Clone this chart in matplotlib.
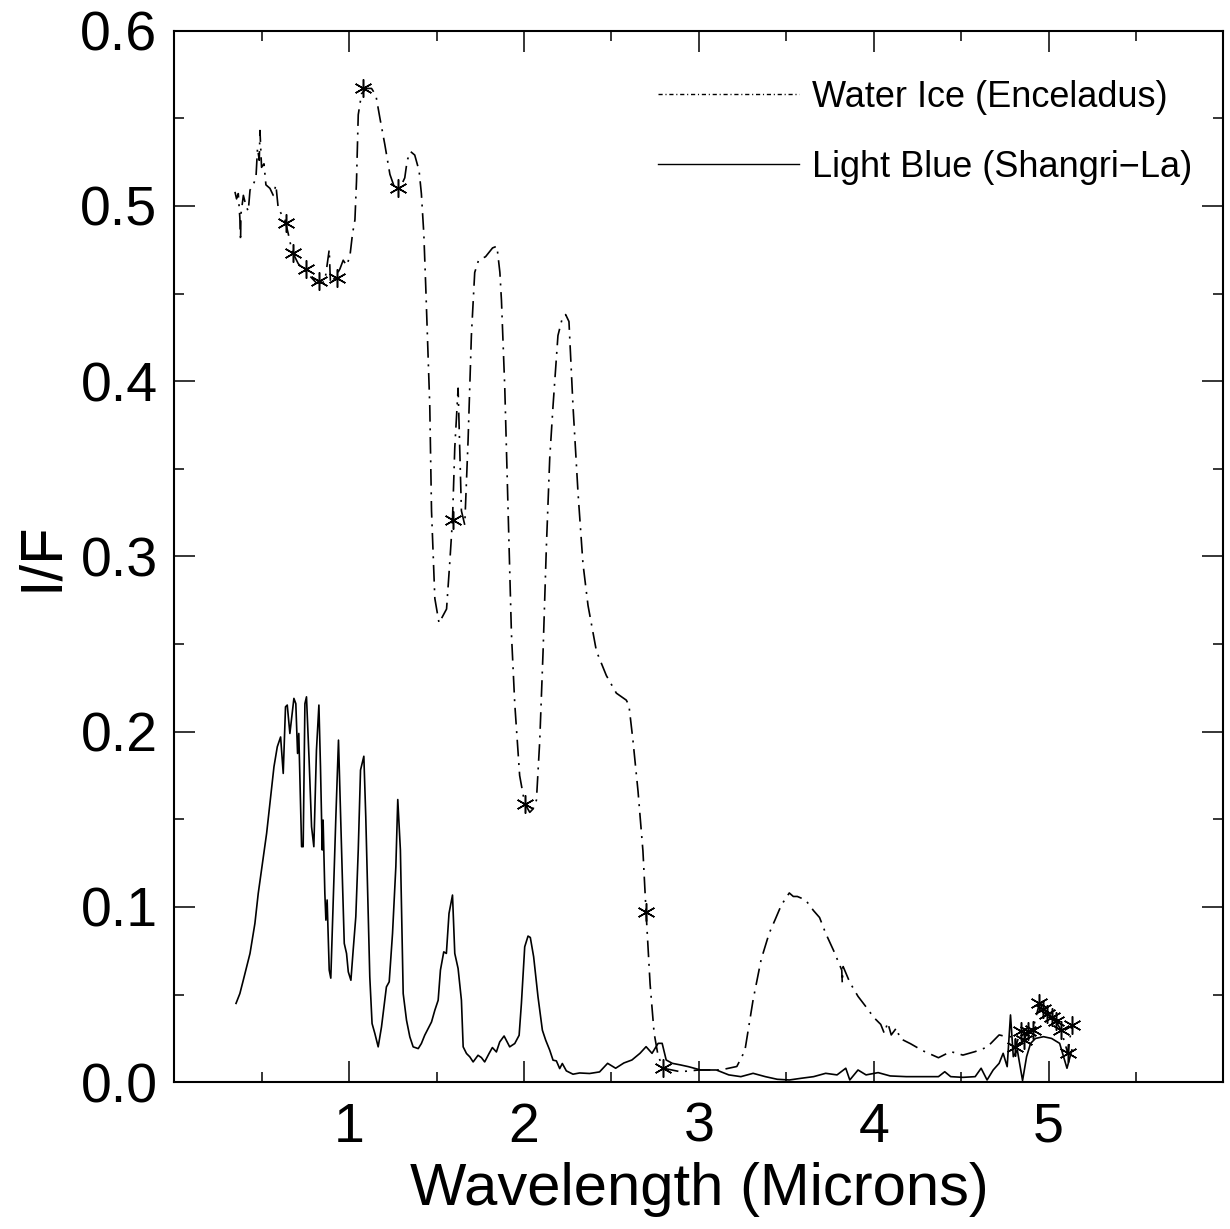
import numpy as np
import matplotlib
matplotlib.use("Agg")
import matplotlib.pyplot as plt
from matplotlib.lines import Line2D

# Water ice (Enceladus) spectrum, dash-dot curve
ice_x = [0.347, 0.356, 0.366, 0.375, 0.379, 0.381, 0.395, 0.410, 0.423, 0.433,
         0.451, 0.467, 0.476, 0.486, 0.490, 0.499, 0.513, 0.524, 0.547, 0.566,
         0.581, 0.594, 0.614, 0.633, 0.652, 0.665, 0.684, 0.709, 0.737, 0.775,
         0.813, 0.842, 0.861, 0.886, 0.893, 0.918, 0.947, 0.966, 0.985, 1.004,
         1.019, 1.033, 1.042, 1.052, 1.071, 1.099, 1.128, 1.153, 1.176, 1.204,
         1.233, 1.261, 1.290, 1.318, 1.332, 1.351, 1.375, 1.400, 1.413, 1.427,
         1.438, 1.461, 1.471, 1.490, 1.514, 1.557, 1.575, 1.591, 1.604, 1.623,
         1.642, 1.661, 1.680, 1.699, 1.718, 1.740, 1.780, 1.820, 1.845, 1.862,
         1.871, 1.890, 1.909, 1.928, 1.947, 1.975, 2.004, 2.033, 2.052, 2.071,
         2.090, 2.109, 2.128, 2.147, 2.166, 2.194, 2.219, 2.238, 2.257, 2.280,
         2.309, 2.337, 2.366, 2.414, 2.471, 2.528, 2.585, 2.600, 2.623, 2.652,
         2.680, 2.698, 2.721, 2.744, 2.767, 2.797, 2.894, 3.000, 3.124, 3.217,
         3.263, 3.310, 3.356, 3.402, 3.437, 3.471, 3.517, 3.540, 3.563, 3.610,
         3.655, 3.690, 3.725, 3.771, 3.800, 3.817, 3.820, 3.825, 3.863, 3.910,
         3.956, 4.000, 4.040, 4.060, 4.080, 4.100, 4.130, 4.150, 4.210, 4.280,
         4.370, 4.440, 4.510, 4.580, 4.648, 4.717, 4.760, 4.810, 4.810, 4.840,
         4.860, 4.880, 4.910, 4.947, 4.970, 4.990, 5.020, 5.040, 5.070, 5.110,
         5.133]
ice_y = [0.508, 0.504, 0.507, 0.493, 0.480, 0.495, 0.506, 0.500, 0.497, 0.509,
         0.512, 0.516, 0.533, 0.526, 0.543, 0.522, 0.524, 0.512, 0.510, 0.506,
         0.512, 0.499, 0.495, 0.492, 0.484, 0.478, 0.472, 0.467, 0.464, 0.460,
         0.456, 0.456, 0.457, 0.475, 0.456, 0.459, 0.464, 0.469, 0.466, 0.471,
         0.484, 0.492, 0.514, 0.552, 0.564, 0.567, 0.567, 0.563, 0.550, 0.535,
         0.518, 0.510, 0.510, 0.516, 0.526, 0.531, 0.529, 0.520, 0.507, 0.484,
         0.454, 0.386, 0.326, 0.276, 0.262, 0.270, 0.296, 0.321, 0.362, 0.396,
         0.326, 0.318, 0.366, 0.426, 0.462, 0.469, 0.471, 0.476, 0.477, 0.462,
         0.446, 0.396, 0.326, 0.256, 0.216, 0.175, 0.159, 0.154, 0.156, 0.161,
         0.195, 0.246, 0.306, 0.356, 0.386, 0.426, 0.436, 0.438, 0.434, 0.386,
         0.336, 0.296, 0.272, 0.246, 0.232, 0.222, 0.218, 0.215, 0.195, 0.166,
         0.132, 0.097, 0.056, 0.028, 0.015, 0.008, 0.006, 0.007, 0.007, 0.009,
         0.018, 0.047, 0.070, 0.085, 0.093, 0.101, 0.108, 0.106, 0.106, 0.104,
         0.098, 0.094, 0.085, 0.075, 0.068, 0.064, 0.0565, 0.066, 0.057, 0.049,
         0.043, 0.037, 0.033, 0.028, 0.034, 0.027, 0.031, 0.025, 0.022, 0.018,
         0.014, 0.0175, 0.0155, 0.0175, 0.020, 0.027, 0.026, 0.026, 0.020, 0.029,
         0.024, 0.029, 0.030, 0.045, 0.042, 0.039, 0.037, 0.035, 0.030, 0.0165,
         0.0327]

# asterisk symbols on the water ice curve
mark_x = [0.638, 0.680, 0.753, 0.829, 0.928, 1.080, 1.280, 1.591, 2.004, 2.698,
          2.797, 4.810, 4.840, 4.860, 4.880, 4.910, 4.947, 4.970, 4.990, 5.020,
          5.040, 5.070, 5.110, 5.133]
mark_y = [0.490, 0.473, 0.464, 0.457, 0.459, 0.567, 0.510, 0.321, 0.159, 0.097,
          0.008, 0.020, 0.029, 0.024, 0.029, 0.030, 0.045, 0.042, 0.039, 0.037,
          0.035, 0.030, 0.0165, 0.0327]

# Light Blue (Shangri-La) spectrum, solid curve
blue_x = [0.353, 0.375, 0.394, 0.433, 0.461, 0.480, 0.499, 0.528, 0.547, 0.570,
          0.589, 0.608, 0.623, 0.636, 0.646, 0.661, 0.684, 0.695, 0.705, 0.712,
          0.728, 0.737, 0.747, 0.756, 0.771, 0.785, 0.798, 0.813, 0.827, 0.836,
          0.846, 0.851, 0.861, 0.867, 0.874, 0.886, 0.895, 0.909, 0.924, 0.939,
          0.951, 0.962, 0.972, 0.985, 0.995, 1.010, 1.023, 1.038, 1.052, 1.065,
          1.084, 1.095, 1.109, 1.118, 1.131, 1.147, 1.166, 1.185, 1.213, 1.229,
          1.248, 1.267, 1.278, 1.293, 1.309, 1.328, 1.347, 1.366, 1.395, 1.413,
          1.432, 1.471, 1.490, 1.509, 1.522, 1.541, 1.556, 1.571, 1.591, 1.604,
          1.623, 1.642, 1.652, 1.671, 1.690, 1.709, 1.737, 1.756, 1.775, 1.800,
          1.819, 1.842, 1.861, 1.886, 1.918, 1.947, 1.972, 1.985, 2.004, 2.023,
          2.036, 2.055, 2.080, 2.105, 2.124, 2.147, 2.166, 2.185, 2.204, 2.219,
          2.242, 2.280, 2.318, 2.375, 2.432, 2.478, 2.524, 2.571, 2.617, 2.663,
          2.698, 2.732, 2.767, 2.790, 2.813, 2.848, 2.894, 2.940, 3.010, 3.100,
          3.171, 3.240, 3.310, 3.380, 3.448, 3.517, 3.587, 3.656, 3.725, 3.790,
          3.840, 3.863, 3.910, 3.956, 4.025, 4.094, 4.186, 4.278, 4.370, 4.406,
          4.440, 4.510, 4.580, 4.614, 4.648, 4.683, 4.717, 4.740, 4.763, 4.782,
          4.798, 4.821, 4.851, 4.874, 4.897, 4.925, 4.971, 5.017, 5.063, 5.105,
          5.133]
blue_y = [0.045, 0.0506, 0.058, 0.0735, 0.0906, 0.1077, 0.1211, 0.142, 0.1591, 0.180,
          0.1914, 0.197, 0.1762, 0.2142, 0.2152, 0.199, 0.219, 0.216, 0.1876, 0.199,
          0.1344, 0.1344, 0.216, 0.2199, 0.1838, 0.1458, 0.1344, 0.1895, 0.2152, 0.180,
          0.1325, 0.1496, 0.1077, 0.0925, 0.104, 0.064, 0.0594, 0.104, 0.1515, 0.1952,
          0.1515, 0.1135, 0.0792, 0.0735, 0.063, 0.0582, 0.0754, 0.0944, 0.1325, 0.1781,
          0.186, 0.1515, 0.0944, 0.0601, 0.0335, 0.0278, 0.0202, 0.0316, 0.0544, 0.0573,
          0.0849, 0.123, 0.1613, 0.1325, 0.0506, 0.0354, 0.0259, 0.0202, 0.0192, 0.0221,
          0.0268, 0.0344, 0.0411, 0.0468, 0.064, 0.0744, 0.0735, 0.0963, 0.1068, 0.0735,
          0.0649, 0.0468, 0.0202, 0.0164, 0.0145, 0.0116, 0.0154, 0.0141, 0.0116, 0.0164,
          0.0198, 0.0173, 0.023, 0.0264, 0.0202, 0.0221, 0.0268, 0.0449, 0.0773, 0.0834,
          0.0826, 0.0716, 0.0487, 0.0297, 0.024, 0.0183, 0.0126, 0.0122, 0.0078, 0.0107,
          0.0065, 0.0046, 0.0053, 0.005, 0.0059, 0.0108, 0.008, 0.011, 0.0127, 0.0165,
          0.0203, 0.0165, 0.0222, 0.0222, 0.0127, 0.0108, 0.0099, 0.0089, 0.007, 0.007,
          0.0042, 0.0032, 0.0051, 0.0032, 0.0017, 0.0013, 0.0023, 0.0032, 0.0051, 0.0042,
          0.008, 0.0013, 0.007, 0.0042, 0.0055, 0.0036, 0.0032, 0.0032, 0.0032, 0.006,
          0.0032, 0.0028, 0.0032, 0.008, 0.0013, 0.007, 0.0108, 0.0165, 0.0089, 0.0384,
          0.0146, 0.0184, 0.001, 0.0146, 0.0222, 0.025, 0.026, 0.025, 0.0222, 0.008,
          0.0184]

x_major = [1, 2, 3, 4, 5]
y_major = [0.0, 0.1, 0.2, 0.3, 0.4, 0.5, 0.6]

plt.rcParams['font.family'] = ['Liberation Sans', 'DejaVu Sans']
dashdot = (10, 4, 1.2, 4)

fig = plt.figure(figsize=(12.3, 12.29), dpi=100)
ax = fig.add_axes([0.1417, 0.1194, 0.853, 0.8557])

ax.plot(ice_x, ice_y, color='black', lw=1.2, dashes=dashdot)
ax.plot(mark_x, mark_y, linestyle='none', marker=(6, 2, 0), ms=13, mew=1.1, color='black')
ax.plot(blue_x, blue_y, color='black', lw=1.2, linestyle='-')

ax.set_xlim(0, 6)
ax.set_ylim(0, 0.6)
ax.set_xticks(x_major)
ax.set_xticks(np.arange(0.5, 6.0, 0.5), minor=True)
ax.set_yticks(y_major)
ax.set_yticks(np.arange(0.05, 0.6, 0.05), minor=True)
ax.set_yticklabels(['%.1f' % v for v in y_major])
ax.tick_params(which='both', direction='in', top=True, right=True, width=1.1, colors='black')
ax.tick_params(which='major', length=15, labelsize=40)
ax.tick_params(which='minor', length=7.5)
ax.tick_params(axis='x', which='major', pad=14)
ax.tick_params(axis='y', which='major', pad=12)
for s in ax.spines.values():
    s.set_linewidth(1.5)

ax.set_xlabel('Wavelength (Microns)', fontsize=43, labelpad=6)
ax.set_ylabel('I/F', fontsize=43, labelpad=8)

handles = [Line2D([], [], color='black', lw=1.0, dashes=(3, 2, 0.8, 2)),
           Line2D([], [], color='black', lw=1.0)]
ax.legend(handles, ['Water Ice (Enceladus)', 'Light Blue (Shangri\u2212La)'],
          loc='upper right', bbox_to_anchor=(0.97, 0.953), frameon=False,
          fontsize=26, handlelength=3.9, handletextpad=0.35, labelspacing=0.97,
          borderpad=0, borderaxespad=0)

fig.savefig('out.png', dpi=100)
